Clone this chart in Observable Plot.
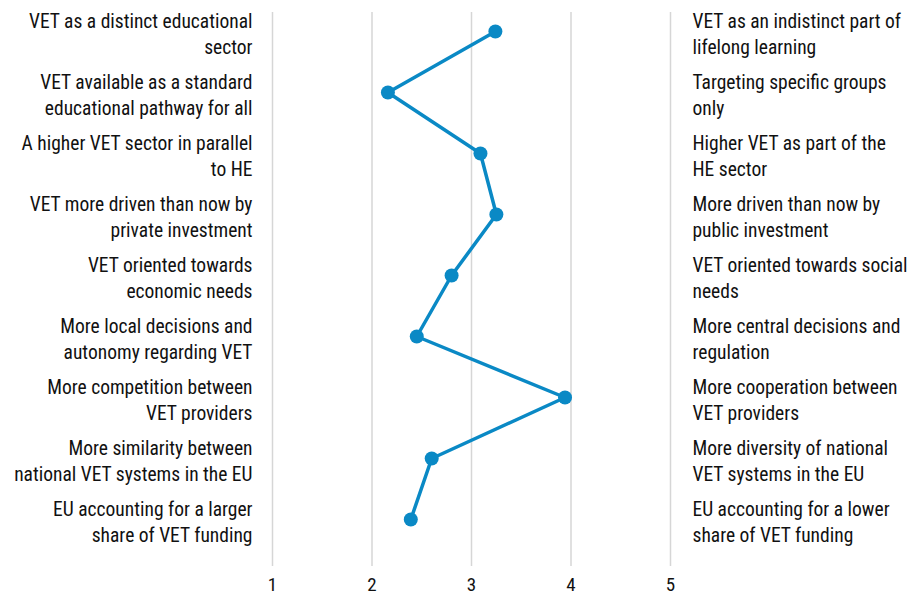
<!DOCTYPE html>
<html><head><meta charset="utf-8">
<script src="https://cdn.jsdelivr.net/npm/d3@7"></script>
<script src="https://cdn.jsdelivr.net/npm/@observablehq/plot@0.6"></script>
<style>body{margin:0;background:#fff}</style>
</head><body><div id="chart"></div>
<script>
const leftLabels = [
  "VET as a distinct educational\nsector",
  "VET available as a standard\neducational pathway for all",
  "A higher VET sector in parallel\nto HE",
  "VET more driven than now by\nprivate investment",
  "VET oriented towards\neconomic needs",
  "More local decisions and\nautonomy regarding VET",
  "More competition between\nVET providers",
  "More similarity between\nnational VET systems in the EU",
  "EU accounting for a larger\nshare of VET funding"
];
const rightLabels = [
  "VET as an indistinct part of\nlifelong learning",
  "Targeting specific groups\nonly",
  "Higher VET as part of the\nHE sector",
  "More driven than now by\npublic investment",
  "VET oriented towards social\nneeds",
  "More central decisions and\nregulation",
  "More cooperation between\nVET providers",
  "More diversity of national\nVET systems in the EU",
  "EU accounting for a lower\nshare of VET funding"
];
const values = [3.24, 2.16, 3.09, 3.25, 2.80, 2.45, 3.94, 2.60, 2.39];
const ticks = [1, 2, 3, 4, 5];

const data = leftLabels.map((l, i) => ({left: l, right: rightLabels[i], value: values[i], i}));
const font = "'Liberation Sans Narrow', 'Roboto Condensed', 'DejaVu Sans Condensed', sans-serif";

const chart = Plot.plot({
  width: 915, height: 600,
  marginLeft: 272, marginRight: 245, marginTop: 30, marginBottom: 81,
  style: {fontFamily: font, fontSize: "19px", color: "#111", background: "#fff"},
  x: {domain: [1, 5], ticks: ticks, label: null},
  y: {type: "point", domain: d3.range(leftLabels.length), padding: 0, axis: null},
  marks: [
    Plot.ruleX(ticks, {stroke: "#d6d6d6", strokeWidth: 1.5, insetTop: -18, insetBottom: -47}),
    Plot.axisX(ticks, {tickSize: 0, tickFormat: d => d, label: null, dy: 49, fontSize: 19, fill: "#111"}),
    Plot.line(data, {x: "value", y: "i", stroke: "#0a89c5", strokeWidth: 3.5}),
    Plot.dot(data, {x: "value", y: "i", r: 7, fill: "#0a89c5"}),
    Plot.text(data, {y: "i", text: "left", frameAnchor: "left", textAnchor: "end", dx: -20, dy: 1, lineHeight: 1.34, fontSize: 19.5, fill: "#111"}),
    Plot.text(data, {y: "i", text: "right", frameAnchor: "right", textAnchor: "start", dx: 22, dy: 1, lineHeight: 1.34, fontSize: 19.5, fill: "#111"})
  ]
});
document.getElementById("chart").appendChild(chart);
</script>
</body></html>
